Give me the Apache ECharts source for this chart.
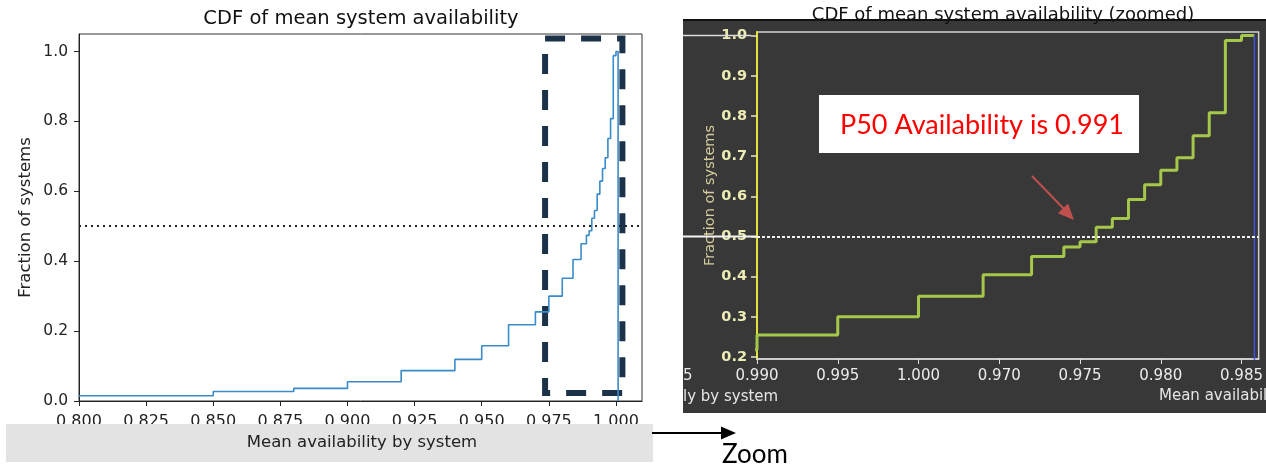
<!DOCTYPE html>
<html><head><meta charset="utf-8">
<script src="https://cdn.jsdelivr.net/npm/echarts@6/dist/echarts.min.js"></script>
<style>html,body{margin:0;padding:0;background:#fff}#c{width:1266px;height:469px}</style>
</head><body><div id="c"></div>
<script>
// CDF of mean system availability (step points: x where the CDF jumps, y value after the jump)
const cdfX = [0.800, 0.850, 0.880, 0.900, 0.920, 0.940, 0.950, 0.960, 0.970, 0.975, 0.980, 0.984, 0.987, 0.989, 0.990, 0.991, 0.992, 0.993, 0.994, 0.995, 0.996, 0.997, 0.998, 0.999, 1.000];
const cdfY = [0.015, 0.027, 0.036, 0.055, 0.087, 0.119, 0.158, 0.218, 0.255, 0.300, 0.351, 0.405, 0.450, 0.474, 0.487, 0.523, 0.545, 0.592, 0.629, 0.665, 0.696, 0.751, 0.808, 0.988, 1.000];
const lastEdge = 1.0008;
const p50Level = 0.5;
const leftXTicks = [0.800, 0.825, 0.850, 0.875, 0.900, 0.925, 0.950, 0.975, 1.000];
const leftYTicks = [0.0, 0.2, 0.4, 0.6, 0.8, 1.0];
const zoomXTicks = [0.970, 0.975, 0.980, 0.985, 0.990, 0.995, 1.000];
const zoomXTickLabels = ['0.990', '0.995', '1.000', '0.970', '0.975', '0.980', '0.985'];
const zoomYTicks = [0.2, 0.3, 0.4, 0.5, 0.6, 0.7, 0.8, 0.9, 1.0];
const zoomBoxX = [0.9736, 1.0024];
const zoomBoxY = [0.023, 1.037];

const lastY = cdfY[cdfY.length - 1];
const cdfPoints = cdfX.map((x, i) => [x, cdfY[i]]);
const FONT = 'DejaVu Sans';

const chart = echarts.init(document.getElementById('c'), null, {renderer: 'canvas'});
chart.setOption({
  animation: false,
  title: [
    {text: 'CDF of mean system availability', left: 361, top: 9, textAlign: 'center', padding: 0,
     textStyle: {fontFamily: FONT, fontSize: 19.5, fontWeight: 'normal', color: '#111'}},
    {text: 'CDF of mean system availability (zoomed)', left: 1003, top: 6, textAlign: 'center', padding: 0, z: 8,
     textStyle: {fontFamily: FONT, fontSize: 18, fontWeight: 'normal', color: '#111'}}
  ],
  grid: [
    {left: 79, top: 34, width: 563, height: 367, show: true, borderColor: '#333', borderWidth: 1, containLabel: false},
    {left: 757, top: 32, width: 505, height: 327, show: true, borderColor: '#cfcfcf', borderWidth: 1.5, containLabel: false}
  ],
  xAxis: [
    {type: 'value', gridIndex: 0, min: 0.8, max: 1.0097,
     axisLine: {show: true, onZero: false, lineStyle: {color: '#222', width: 1}},
     axisTick: {show: true, length: 5, customValues: leftXTicks, lineStyle: {color: '#222'}},
     axisLabel: {customValues: leftXTicks, formatter: v => v.toFixed(3), fontFamily: FONT, fontSize: 16, color: '#222', margin: 13},
     splitLine: {show: false}},
    {type: 'value', gridIndex: 1, min: 0.970, max: 1.00106,
     axisLine: {show: true, onZero: false, lineStyle: {color: '#d8d8d8', width: 1.5}},
     axisTick: {show: true, length: 5, customValues: zoomXTicks, lineStyle: {color: '#e0e0e0'}},
     axisLabel: {customValues: zoomXTicks, fontFamily: FONT, fontSize: 15, color: '#ececec', margin: 10,
       formatter: v => { const i = zoomXTicks.findIndex(t => Math.abs(t - v) < 1e-6); return i >= 0 ? zoomXTickLabels[i] : ''; }},
     splitLine: {show: false}}
  ],
  yAxis: [
    {type: 'value', gridIndex: 0, min: 0, max: 1.05,
     name: 'Fraction of systems', nameLocation: 'middle', nameGap: 45,
     nameTextStyle: {fontFamily: FONT, fontSize: 16.5, color: '#222'},
     axisLine: {show: true, onZero: false, lineStyle: {color: '#222', width: 1}},
     axisTick: {show: true, length: 5, customValues: leftYTicks, lineStyle: {color: '#222'}},
     axisLabel: {customValues: leftYTicks, formatter: v => v.toFixed(1), fontFamily: FONT, fontSize: 15.5, color: '#222', margin: 11},
     splitLine: {show: false}},
    {type: 'value', gridIndex: 1, min: 0.195, max: 1.009,
     name: 'Fraction of systems', nameLocation: 'middle', nameGap: 38,
     nameTextStyle: {fontFamily: FONT, fontSize: 14.5, color: '#d4cc9c'},
     axisLine: {show: true, onZero: false, lineStyle: {color: '#e2e23a', width: 2}},
     axisTick: {show: true, length: 6, customValues: zoomYTicks, lineStyle: {color: '#e8e8c0', width: 1.5}},
     axisLabel: {customValues: zoomYTicks, formatter: v => v.toFixed(1), fontFamily: FONT, fontSize: 14.5, fontWeight: 'bold', color: '#ececb4', margin: 10},
     splitLine: {show: false}}
  ],
  series: [
    {type: 'line', xAxisIndex: 0, yAxisIndex: 0, step: 'end', symbol: 'none', silent: true,
     data: cdfPoints.concat([[lastEdge, lastY], [lastEdge, 0]]),
     lineStyle: {color: '#3b8bc9', width: 1.6},
     markLine: {silent: true, symbol: ['none', 'none'], label: {show: false},
       lineStyle: {type: [2, 4], color: '#222', width: 2}, data: [{yAxis: p50Level}]},
     markArea: {silent: true, itemStyle: {color: 'rgba(0,0,0,0)', borderColor: '#1c3249', borderWidth: 6, borderType: [20, 16]},
       data: [[{coord: [zoomBoxX[0], zoomBoxY[1]]}, {coord: [zoomBoxX[1], zoomBoxY[0]]}]]}},
    {type: 'line', xAxisIndex: 1, yAxisIndex: 1, step: 'end', symbol: 'none', silent: true,
     data: cdfPoints.concat([[lastEdge, lastY]]),
     lineStyle: {color: '#a6c84a', width: 3},
     markLine: {silent: true, symbol: ['none', 'none'], label: {show: false},
       lineStyle: {type: [3, 2], color: '#f2f2f2', width: 2}, data: [{yAxis: p50Level}]}},
    {type: 'line', xAxisIndex: 1, yAxisIndex: 1, symbol: 'none', silent: true,
     data: [[lastEdge, lastY], [lastEdge, 0]],
     lineStyle: {color: '#4150e0', width: 1.5}}
  ]
});

const p5 = chart.convertToPixel({xAxisIndex: 1, yAxisIndex: 1}, [0.970, p50Level]);
const p1 = chart.convertToPixel({xAxisIndex: 1, yAxisIndex: 1}, [0.970, 1.0]);
const remText = {fontFamily: FONT, fontSize: 15, fill: '#e6e6e6'};

chart.setOption({
  graphic: {elements: [
    {type: 'rect', z: -10, silent: true, shape: {x: 683, y: 21, width: 583, height: 392}, style: {fill: '#383838'}},
    {type: 'line', z: -9, silent: true, shape: {x1: 683, y1: 20, x2: 1266, y2: 20}, style: {stroke: '#111', lineWidth: 2}},
    {type: 'line', z: 5, silent: true, shape: {x1: 683, y1: p5[1], x2: p5[0], y2: p5[1]}, style: {stroke: '#f4f4f4', lineWidth: 2}},
    {type: 'line', z: 5, silent: true, shape: {x1: 683, y1: p1[1], x2: p1[0] - 6, y2: p1[1]}, style: {stroke: '#dcdcdc', lineWidth: 1.5}},
    {type: 'text', z: 5, silent: true, style: Object.assign({text: '5', x: 683, y: 376, verticalAlign: 'middle'}, remText)},
    {type: 'text', z: 5, silent: true, style: Object.assign({text: 'ly by system', x: 683, y: 397, verticalAlign: 'middle'}, remText)},
    {type: 'text', z: 5, silent: true, style: Object.assign({text: 'Mean availabil', x: 1159, y: 396, verticalAlign: 'middle'}, remText)},
    {type: 'rect', z: 50, silent: true, shape: {x: 6, y: 424, width: 647, height: 38}, style: {fill: '#e3e3e3'}},
    {type: 'text', z: 51, silent: true, style: {text: 'Mean availability by system', x: 362, y: 443, align: 'center', verticalAlign: 'middle', fontFamily: FONT, fontSize: 16.5, fill: '#222'}},
    {type: 'line', z: 51, silent: true, shape: {x1: 652, y1: 433, x2: 724, y2: 433}, style: {stroke: '#000', lineWidth: 2}},
    {type: 'polygon', z: 51, silent: true, shape: {points: [[736, 433], [721, 426.5], [721, 439.5]]}, style: {fill: '#000'}},
    {type: 'text', z: 51, silent: true, style: {text: 'Zoom', x: 722, y: 455, verticalAlign: 'middle', fontFamily: 'Lato', fontSize: 26, fill: '#000'}},
    {type: 'rect', z: 60, silent: true, shape: {x: 819, y: 95, width: 320, height: 58}, style: {fill: '#ffffff'}},
    {type: 'text', z: 61, silent: true, style: {text: 'P50 Availability is 0.991', x: 840, y: 125, verticalAlign: 'middle', fontFamily: 'Lato', fontSize: 27, fill: '#ff0000'}},
    {type: 'line', z: 61, silent: true, shape: {x1: 1032, y1: 176, x2: 1064, y2: 209}, style: {stroke: '#c0504d', lineWidth: 2}},
    {type: 'polygon', z: 61, silent: true, shape: {points: [[1074, 220], [1057.9, 213.2], [1068.1, 203.6]]}, style: {fill: '#c0504d'}}
  ]}
});
</script>
</body></html>
